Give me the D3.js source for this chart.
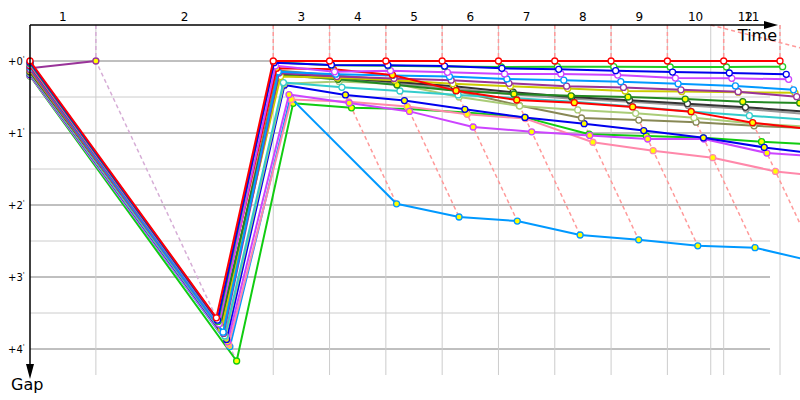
<!DOCTYPE html>
<html><head><meta charset="utf-8">
<script src="https://cdn.jsdelivr.net/npm/d3@7"></script>
<style>body{margin:0;background:#fff} svg{display:block;font-family:"DejaVu Sans",Verdana,sans-serif}</style>
</head><body><svg id="c" width="800" height="400"></svg>
<script>
// leader's cumulative time (s) at each lap 0..12
const leaderTimes = [0,117,432,532,632,732,832,932,1032,1132,1232,1332,1460];
// lap marker times (s) for laps 1..12 (index 0 unused)
const lapMarkTimes = [null,117,432,532,632,732,832,932,1032,1132,1232,1332,1209];
const lapLabels = ["","1","2","3","4","5","6","7","8","9","10","11","12"];
const lapLeaderColor = [null,"#993399","#ff0000","#ff0000","#ff0000","#ff0000","#ff0000","#ff0000","#ff0000","#ff0000","#ff0000","#ff0000","#ff0000"];
const yTicks = [0,60,120,180,240];
const yTickLabels = ["+0","+1","+2","+3","+4"];
const gridHalf = [30,90,150,210];

// gaps to the leader (s), laps 0..11
const gRedA    = [0,214,0,0,0,0,0,0,0,0,0,0];
const gBlueA   = [1,216,1.4,3.3,3.5,4.2,6.1,6.9,8.1,9.2,10,11.1];
const gGreenA  = [2,217,1.0,3.5,4.0,4.5,5.0,4.7,4.7,5.0,5.0,4.7];
const gVioA    = [3,219,4,9,8.1,9.4,10.8,10.8,11.7,14.2,14.4,15.3];
const gRedB    = [4,218,6.1,6.9,11.7,24.7,32.5,34.7,38.3,42.2,51.4,57];
const gSkyA    = [5,226,9,11,12,13,15,16,17.2,19,20.8,24];
const gPurA    = [7,227,10,13,14.5,16,18.6,21,22,24,25.6,29.7];
const gYellowA = [8,223,13,14,16,19,21,23,25,25.5,26,26.5];
const gDGreenB = [6,220,11.7,15.2,20,24.7,27.5,29,30,31.7,33.9,35];
const gBlackA  = [9,221,10.5,14,17.5,21,26,30,32.7,35.6,38.6,42];
const gGrayA   = [9.5,224,12,15,19,23,28,31.5,34,37,40,44];
const gCyanA   = [10,229,18,21.9,25,28.3,31,34,38,42,45.6,49];
const gLGreenA = [10.5,230,19,17,19.2,30,37.5,40.8,43.6,47.2,52,55];
const gOliveA  = [8.5,222,8,12,15.8,25,37,47.5,49.2,51,54,56];
const gBlueB   = [11,232,20,28.3,33,40.3,47,52.2,58,64,72,78];
const gVioB    = [11.5,234,28,35,42,55,59,62,65,65,76.7,80];
const gPinkB   = [12,236,32,34,38,44.4,48,67.7,74.7,80.6,92,97];
const gSkyB    = [12,238,30.5,119,130,133.4,145,149,154,155.6,168,175];
const gGreenB  = [12.5,250,35.3,39,40,43,47,61,62.5,64,67.2,70];
const gPurL1   = [6,0];

const carColors = ["#ff0000","#0000ee","#22cc22","#cc44ff","#ff0000","#0099ff","#993399","#cccc00","#228822","#333333","#999999","#33cccc","#aacc77","#888855","#0000ee","#cc44ff","#ff88aa","#0099ff","#11cc11","#993399"];
const carFills  = ["#fff","#fff","#fff","#fff","#ffff00","#fff","#fff","#fff","#ffff00","#fff","#fff","#fff","#fff","#fff","#ffff00","#ffff00","#ffff00","#ffff00","#ffff00","#ffff00"];
const carGaps = [gRedA,gBlueA,gGreenA,gVioA,gRedB,gSkyA,gPurA,gYellowA,gDGreenB,gBlackA,gGrayA,gCyanA,gLGreenA,gOliveA,gBlueB,gVioB,gPinkB,gSkyB,gGreenB,gPurL1];

const svg = d3.select("#c");
const x = d3.scaleLinear().domain([0,1332]).range([30,780]);
const y = d3.scaleLinear().domain([0,240]).range([61,349]);
const axisTop = 25, gridRight = 770, gridBottom = 375;

function pt(g,lap){ return lap===0 ? [x(0), y(g)] : [x(leaderTimes[lap]+g), y(g)]; }

// horizontal grid
svg.append("g").selectAll("line").data(gridHalf).join("line")
  .attr("x1",x(0)).attr("x2",gridRight).attr("y1",d=>y(d)).attr("y2",d=>y(d))
  .attr("stroke","#cccccc").attr("stroke-width",1);
svg.append("g").selectAll("line").data(yTicks).join("line")
  .attr("x1",x(0)).attr("x2",gridRight).attr("y1",d=>y(d)).attr("y2",d=>y(d))
  .attr("stroke","#808080").attr("stroke-width",1);
// vertical grid
const laps = d3.range(1,lapMarkTimes.length);
svg.append("g").selectAll("line").data(laps).join("line")
  .attr("x1",k=>x(lapMarkTimes[k])).attr("x2",k=>x(lapMarkTimes[k]))
  .attr("y1",axisTop).attr("y2",gridBottom)
  .attr("stroke","#cccccc").attr("stroke-width",1);

// lap lines (dashed)
function light(c){ return d3.interpolateRgb(c,"#ffffff")(0.6); }
svg.append("g").selectAll("path").data(laps).join("path")
  .attr("fill","none").attr("stroke",k=>light(lapLeaderColor[k]))
  .attr("stroke-width",1.5).attr("stroke-dasharray","4,3")
  .attr("d",k=>{
    const pts=[[x(lapMarkTimes[k]),axisTop],[x(leaderTimes[k]),y(0)]];
    const gs = carGaps.map(a=>a[k]).filter(v=>v!==undefined && v!==null);
    if(gs.length){ const m=d3.max(gs); pts.push([x(leaderTimes[k]+m),y(m)]); }
    return d3.line()(pts);
  });

// cars
const line = d3.line();
const order = d3.range(carGaps.length).reverse();
order.forEach(i=>{
  const pts = carGaps[i].map((g,lap)=>pt(g,lap));
  const g = svg.append("g");
  g.append("path").attr("d",line(pts)).attr("fill","none")
    .attr("stroke",carColors[i]).attr("stroke-width",2).attr("stroke-linejoin","round");
  g.selectAll("circle").data(pts).join("circle")
    .attr("cx",d=>d[0]).attr("cy",d=>d[1]).attr("r",3)
    .attr("fill",carFills[i]).attr("stroke",carColors[i]).attr("stroke-width",1.3);
});

// axes
svg.append("line").attr("x1",x(0)).attr("x2",766).attr("y1",axisTop).attr("y2",axisTop).attr("stroke","#000").attr("stroke-width",1.5);
svg.append("path").attr("d","M764,21L778,25L764,29Z").attr("fill","#000");
svg.append("line").attr("x1",x(0)).attr("x2",x(0)).attr("y1",axisTop).attr("y2",366).attr("stroke","#000").attr("stroke-width",1.5);
svg.append("path").attr("d","M26,364L30,379L34,364Z").attr("fill","#000");
svg.append("text").attr("x",777).attr("y",41).attr("text-anchor","end").attr("font-size",16).text("Time");
svg.append("text").attr("x",11).attr("y",390).attr("font-size",16).text("Gap");

// lap labels
svg.append("g").selectAll("text").data(laps).join("text")
  .attr("x",k=>x(((k===1?0:lapMarkTimes[k-1])+lapMarkTimes[k])/2))
  .attr("y",21).attr("text-anchor","middle").attr("font-size",12)
  .text(k=>lapLabels[k]);

// y tick labels
const yt = svg.append("g").selectAll("text").data(yTicks).join("text")
  .attr("x",8).attr("y",d=>y(d)+4).attr("font-size",10);
yt.append("tspan").text((d,i)=>yTickLabels[i]);
yt.append("tspan").attr("font-size",7).attr("dy",-4).text("'");
</script></body></html>
